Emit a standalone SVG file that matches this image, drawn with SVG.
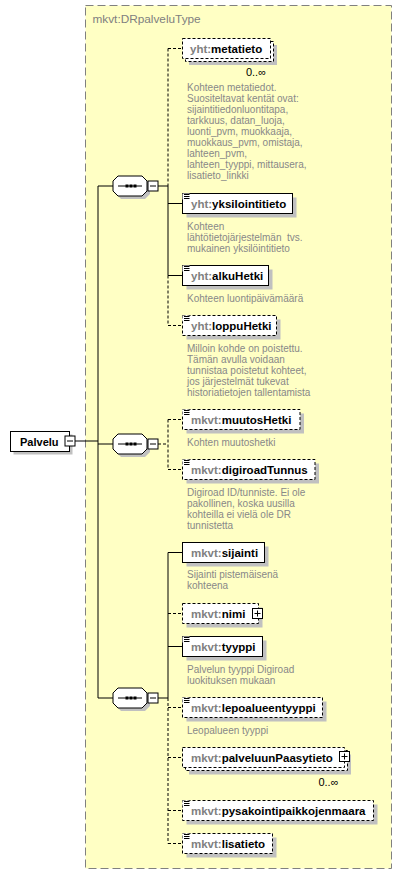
<svg xmlns="http://www.w3.org/2000/svg" width="402" height="875" viewBox="0 0 402 875">
<style>
.bg{fill:#ffffc4;stroke:#808080;stroke-width:1;stroke-dasharray:8 4}
.title{font-family:"Liberation Sans",Arial,sans-serif;font-size:11.8px;fill:#808080}
.box{fill:#fff;stroke:#000;stroke-width:1}
.opt{stroke-dasharray:3 2}
.sh{fill:#c0c0c0;stroke:none}
.ln{stroke:#000;stroke-width:1;fill:none}
.dl{stroke-dasharray:3 2}
.name{font-family:"Liberation Sans",Arial,sans-serif;font-size:11.5px;font-weight:bold;fill:#000}
.pfx{fill:#808080}
.ann{font-family:"Liberation Sans",Arial,sans-serif;font-size:10px;fill:#888;white-space:pre}
.occ{font-family:"Liberation Sans",Arial,sans-serif;font-size:11px;fill:#000}
.dot{fill:#000}
</style>
<defs>
<g id="seq">
<path class="sh" d="M121,-7H145L150,-2V8L145,13H121L116,8V-2Z"/>
<path class="box" d="M118,-10H142L147,-5V5L142,10H118L113,5V-5Z"/>
<line class="ln" x1="118" y1="0" x2="142" y2="0"/>
<rect class="dot" x="125.5" y="-1.5" width="3" height="3"/>
<rect class="dot" x="129.5" y="-1.5" width="3" height="3"/>
<rect class="dot" x="133.5" y="-1.5" width="3" height="3"/>
<rect class="box" x="148" y="-5" width="10" height="10"/>
<line class="ln" x1="150" y1="0" x2="156" y2="0"/>
</g>
<g id="icon">
<rect x="0" y="-0.5" width="7" height="6" fill="#fff"/>
<path class="ln" d="M1.5,0.5H7M1.5,2.5H7M1.5,4.5H7"/>
</g>
<g id="plus">
<rect class="box" x="0" y="0" width="10" height="10"/>
<path class="ln" d="M2,5H8M5,2V8"/>
</g>
</defs>

<g id="container">
<rect class="bg" x="85.5" y="5.5" width="306" height="863"/>
<text class="title" x="92.5" y="23">mkvt:DRpalveluType</text>
</g>

<g id="connectors">
<line class="ln" x1="75" y1="441" x2="98" y2="441"/>
<line class="ln" x1="98" y1="186" x2="98" y2="698"/>
<line class="ln" x1="98" y1="186" x2="113" y2="186"/>
<line class="ln" x1="98" y1="444" x2="113" y2="444"/>
<line class="ln" x1="98" y1="698" x2="113" y2="698"/>
<line class="ln" x1="158" y1="186" x2="168" y2="186"/>
<line class="ln dl" x1="168" y1="48.5" x2="168" y2="186"/>
<line class="ln" x1="168" y1="186" x2="168" y2="275.5"/>
<line class="ln dl" x1="168" y1="275.5" x2="168" y2="325.5"/>
<line class="ln dl" x1="168" y1="48.5" x2="182.5" y2="48.5"/>
<line class="ln" x1="168" y1="203.5" x2="182.5" y2="203.5"/>
<line class="ln" x1="168" y1="275.5" x2="182.5" y2="275.5"/>
<line class="ln dl" x1="168" y1="325.5" x2="182.5" y2="325.5"/>
<line class="ln dl" x1="158" y1="444" x2="168" y2="444"/>
<line class="ln dl" x1="168" y1="419.5" x2="168" y2="469.5"/>
<line class="ln dl" x1="168" y1="419.5" x2="182.5" y2="419.5"/>
<line class="ln dl" x1="168" y1="469.5" x2="182.5" y2="469.5"/>
<line class="ln" x1="158" y1="698" x2="168" y2="698"/>
<line class="ln" x1="168" y1="552.5" x2="168" y2="698"/>
<line class="ln dl" x1="168" y1="698" x2="168" y2="843.5"/>
<line class="ln" x1="168" y1="552.5" x2="182.5" y2="552.5"/>
<line class="ln dl" x1="168" y1="613.5" x2="182.5" y2="613.5"/>
<line class="ln" x1="168" y1="646.5" x2="182.5" y2="646.5"/>
<line class="ln dl" x1="168" y1="707.5" x2="182.5" y2="707.5"/>
<line class="ln dl" x1="168" y1="757.5" x2="182.5" y2="757.5"/>
<line class="ln dl" x1="168" y1="810.5" x2="182.5" y2="810.5"/>
<line class="ln dl" x1="168" y1="843.5" x2="182.5" y2="843.5"/>
</g>

<g id="palvelu">
<rect class="sh" x="13.5" y="434.5" width="59" height="20"/>
<rect class="box" x="10.5" y="431.5" width="59" height="20"/>
<text class="name" x="20" y="445.5" style="font-size:11px">Palvelu</text>
<rect class="box" x="65" y="436" width="10" height="10"/>
<line class="ln" x1="67" y1="441" x2="73" y2="441"/>
</g>

<g id="seq1"><use href="#seq" y="186"/></g>
<g id="seq2"><use href="#seq" y="444"/></g>
<g id="seq3"><use href="#seq" y="698"/></g>

<g id="metatieto">
<rect class="sh" x="189" y="45" width="88" height="20"/>
<rect class="box opt" x="185.5" y="41.5" width="88" height="20"/>
<rect class="box opt" x="182.5" y="38.5" width="88" height="20"/>
<text class="name" x="190" y="52.5"><tspan class="pfx">yht:</tspan>metatieto</text>
<text class="occ" x="266" y="75.5" text-anchor="end">0..∞</text>
<text class="ann" x="187" y="91">Kohteen metatiedot.</text>
<text class="ann" x="187" y="102">Suositeltavat kentät ovat:</text>
<text class="ann" x="187" y="113">sijaintitiedonluontitapa,</text>
<text class="ann" x="187" y="124">tarkkuus, datan_luoja,</text>
<text class="ann" x="187" y="135">luonti_pvm, muokkaaja,</text>
<text class="ann" x="187" y="146">muokkaus_pvm, omistaja,</text>
<text class="ann" x="187" y="157">lahteen_pvm,</text>
<text class="ann" x="187" y="168">lahteen_tyyppi, mittausera,</text>
<text class="ann" x="187" y="179">lisatieto_linkki</text>
</g>

<g id="yksilointitieto">
<rect class="sh" x="186.5" y="197.5" width="110" height="20"/>
<rect class="box" x="182.5" y="193.5" width="110" height="20"/>
<use href="#icon" x="182.5" y="194"/>
<text class="name" x="191" y="207.5"><tspan class="pfx">yht:</tspan>yksilointitieto</text>
<text class="ann" x="187" y="229.5">Kohteen</text>
<text class="ann" x="187" y="240.5">lähtötietojärjestelmän  tvs.</text>
<text class="ann" x="187" y="251.5">mukainen yksilöintitieto</text>
</g>

<g id="alkuHetki">
<rect class="sh" x="186.5" y="269.5" width="86" height="20"/>
<rect class="box" x="182.5" y="265.5" width="86" height="20"/>
<use href="#icon" x="182.5" y="266"/>
<text class="name" x="191" y="279.5"><tspan class="pfx">yht:</tspan>alkuHetki</text>
<text class="ann" x="187" y="301.5">Kohteen luontipäivämäärä</text>
</g>

<g id="loppuHetki">
<rect class="sh" x="186.5" y="319.5" width="94" height="20"/>
<rect class="box opt" x="182.5" y="315.5" width="94" height="20"/>
<use href="#icon" x="182.5" y="316"/>
<text class="name" x="191" y="329.5"><tspan class="pfx">yht:</tspan>loppuHetki</text>
<text class="ann" x="187" y="352">Milloin kohde on poistettu.</text>
<text class="ann" x="187" y="363">Tämän avulla voidaan</text>
<text class="ann" x="187" y="374">tunnistaa poistetut kohteet,</text>
<text class="ann" x="187" y="385">jos järjestelmät tukevat</text>
<text class="ann" x="187" y="396">historiatietojen tallentamista</text>
</g>

<g id="muutosHetki">
<rect class="sh" x="186.5" y="413.5" width="117.5" height="20"/>
<rect class="box opt" x="182.5" y="409.5" width="117.5" height="20"/>
<use href="#icon" x="182.5" y="410"/>
<text class="name" x="191" y="423.5"><tspan class="pfx">mkvt:</tspan>muutosHetki</text>
<text class="ann" x="187" y="446">Kohten muutoshetki</text>
</g>

<g id="digiroadTunnus">
<rect class="sh" x="186.5" y="463.5" width="132.5" height="20"/>
<rect class="box opt" x="182.5" y="459.5" width="132.5" height="20"/>
<use href="#icon" x="182.5" y="460"/>
<text class="name" x="191" y="473.5"><tspan class="pfx">mkvt:</tspan>digiroadTunnus</text>
<text class="ann" x="187" y="495.5">Digiroad ID/tunniste. Ei ole</text>
<text class="ann" x="187" y="506.5">pakollinen, koska uusilla</text>
<text class="ann" x="187" y="517.5">kohteilla ei vielä ole DR</text>
<text class="ann" x="187" y="528.5">tunnistetta</text>
</g>

<g id="sijainti">
<rect class="sh" x="186.5" y="546.5" width="82" height="20"/>
<rect class="box" x="182.5" y="542.5" width="82" height="20"/>
<text class="name" x="191" y="556.5"><tspan class="pfx">mkvt:</tspan>sijainti</text>
<text class="ann" x="187" y="578">Sijainti pistemäisenä</text>
<text class="ann" x="187" y="589">kohteena</text>
</g>

<g id="nimi">
<rect class="sh" x="186.5" y="607.5" width="76" height="20"/>
<rect class="box opt" x="182.5" y="603.5" width="76" height="20"/>
<text class="name" x="191" y="617.5"><tspan class="pfx">mkvt:</tspan>nimi</text>
<use href="#plus" x="252.5" y="608.5"/>
</g>

<g id="tyyppi">
<rect class="sh" x="186.5" y="640.5" width="80" height="20"/>
<rect class="box" x="182.5" y="636.5" width="80" height="20"/>
<use href="#icon" x="182.5" y="637"/>
<text class="name" x="191" y="650.5"><tspan class="pfx">mkvt:</tspan>tyyppi</text>
<text class="ann" x="187" y="673">Palvelun tyyppi Digiroad</text>
<text class="ann" x="187" y="684">luokituksen mukaan</text>
</g>

<g id="lepoalueentyyppi">
<rect class="sh" x="186.5" y="701.5" width="140" height="20"/>
<rect class="box opt" x="182.5" y="697.5" width="140" height="20"/>
<use href="#icon" x="182.5" y="698"/>
<text class="name" x="191" y="711.5"><tspan class="pfx">mkvt:</tspan>lepoalueentyyppi</text>
<text class="ann" x="187" y="734">Leopalueen tyyppi</text>
</g>

<g id="palveluunPaasytieto">
<rect class="sh" x="189" y="754.5" width="162" height="20"/>
<rect class="box opt" x="185.5" y="750.5" width="162" height="20"/>
<rect class="box opt" x="182.5" y="747.5" width="162" height="20"/>
<text class="name" x="191" y="761.5"><tspan class="pfx">mkvt:</tspan>palveluunPaasytieto</text>
<use href="#plus" x="339.5" y="751.5"/>
<text class="occ" x="338.5" y="785.5" text-anchor="end">0..∞</text>
</g>

<g id="pysakointipaikkojenmaara">
<rect class="sh" x="186.5" y="804.5" width="191" height="20"/>
<rect class="box opt" x="182.5" y="800.5" width="191" height="20"/>
<use href="#icon" x="182.5" y="801"/>
<text class="name" x="191" y="814.5"><tspan class="pfx">mkvt:</tspan>pysakointipaikkojenmaara</text>
</g>

<g id="lisatieto">
<rect class="sh" x="186.5" y="837.5" width="90" height="20"/>
<rect class="box opt" x="182.5" y="833.5" width="90" height="20"/>
<use href="#icon" x="182.5" y="834"/>
<text class="name" x="191" y="847.5"><tspan class="pfx">mkvt:</tspan>lisatieto</text>
</g>
</svg>
